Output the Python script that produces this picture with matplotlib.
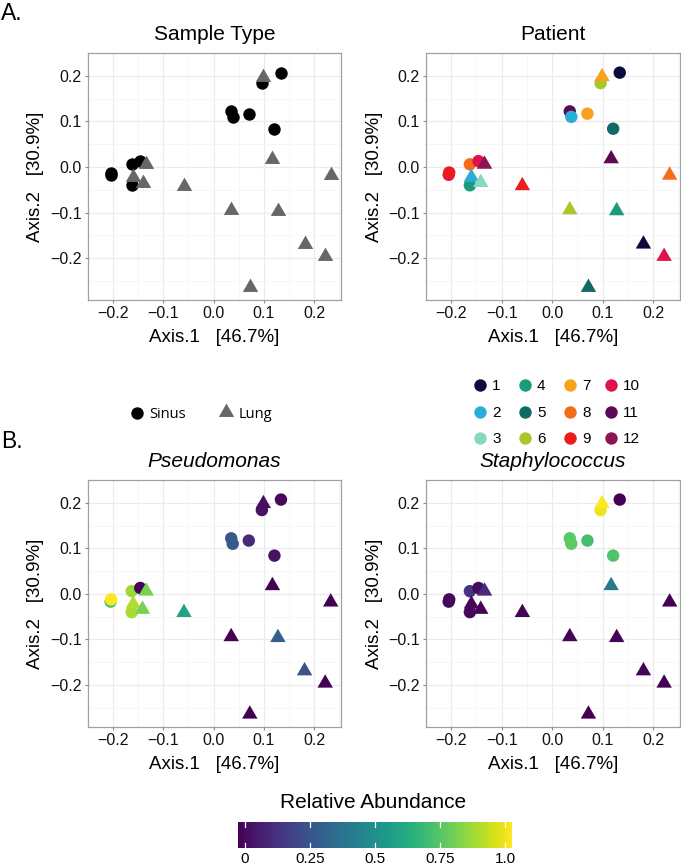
import numpy as np
import matplotlib
matplotlib.use("Agg")
import matplotlib.pyplot as plt
from matplotlib.path import Path

plt.rcParams['font.family'] = ['Liberation Sans', 'DejaVu Sans']

# ---------------- data ----------------
# Sinus samples (circles)
sinus_x = [0.134, 0.096, 0.035, 0.038, 0.070, 0.121, -0.205, -0.204, -0.163, -0.146, -0.163]
sinus_y = [0.207, 0.184, 0.122, 0.110, 0.117, 0.084, -0.017, -0.012, 0.006, 0.013, -0.040]
sinus_patient = [1, 6, 11, 2, 7, 5, 10, 9, 8, 10, 4]
sinus_pseudo = [0.02, 0.05, 0.27, 0.28, 0.12, 0.05, 0.72, 1.00, 0.85, 0.01, 0.87]
sinus_staph = [0.00, 0.97, 0.74, 0.75, 0.70, 0.72, 0.02, 0.02, 0.15, 0.03, 0.02]

# Lung samples (triangles)
lung_x = [0.099, 0.117, 0.233, -0.134, -0.160, -0.1415, -0.059, 0.035, 0.128, 0.181, 0.222, 0.072]
lung_y = [0.198, 0.018, -0.018, 0.006, -0.0225, -0.034, -0.041, -0.094, -0.096, -0.169, -0.196, -0.264]
lung_patient = [7, 11, 8, 12, 2, 3, 9, 6, 4, 1, 10, 5]
lung_pseudo = [0.04, 0.00, 0.00, 0.80, 0.88, 0.80, 0.58, 0.00, 0.30, 0.25, 0.00, 0.00]
lung_staph = [1.00, 0.40, 0.00, 0.12, 0.02, 0.01, 0.01, 0.01, 0.01, 0.01, 0.00, 0.00]

patients = [1, 2, 3, 4, 5, 6, 7, 8, 9, 10, 11, 12]
patient_colors = ['#0d0b3b', '#2aaed8', '#86d8c2', '#1b9a7c', '#0f6b63', '#a9c62b',
                  '#f7a21c', '#f36c17', '#ec1c1c', '#e0124c', '#5b0a52', '#8c1552']

xticks = [-0.2, -0.1, 0.0, 0.1, 0.2]
yticks = [-0.2, -0.1, 0.0, 0.1, 0.2]
tick_labels = ['\u22120.2', '\u22120.1', '0.0', '0.1', '0.2']
xlabel = "Axis.1   [46.7%]"
ylabel = "Axis.2   [30.9%]"
cbar_ticks = [0, 0.25, 0.5, 0.75, 1.0]
cbar_labels = ['0', '0.25', '0.5', '0.75', '1.0']

# ---------------- figure ----------------
W, H = 681, 866
fig = plt.figure(figsize=(W / 100, H / 100), dpi=100)

def fx(px):
    return px / W

def fy(py):
    return 1 - py / H

tri = Path([(-1, -0.577), (1, -0.577), (0, 1.155), (-1, -0.577)],
           [Path.MOVETO, Path.LINETO, Path.LINETO, Path.CLOSEPOLY])

CIRC_S = 80
TRI_S = 165

def make_ax(left, top, right, bottom):
    ax = fig.add_axes([fx(left), fy(bottom), fx(right - left), (bottom - top) / H])
    ax.set_xlim(-0.2245, 0.2535)
    ax.set_ylim(-0.2915, 0.2295)
    ax.set_xticks(xticks)
    ax.set_yticks(yticks)
    ax.set_xticklabels(tick_labels)
    ax.set_yticklabels(tick_labels)
    ax.set_xticks(np.arange(-0.25, 0.26, 0.1), minor=True)
    ax.set_yticks(np.arange(-0.25, 0.26, 0.1), minor=True)
    ax.grid(which='major', color='#ebebeb', linewidth=0.9, zorder=0)
    ax.grid(which='minor', color='#f5f5f5', linewidth=0.6, zorder=0)
    ax.set_axisbelow(True)
    for s in ax.spines.values():
        s.set_color('#a0a0a0')
        s.set_linewidth(0.9)
    ax.tick_params(which='major', length=2.5, width=0.8, color='#8a8a8a',
                   labelsize=11.5, labelcolor='#111111', pad=2)
    ax.tick_params(which='minor', length=0)
    return ax

panels = {
    'A1': (88, 53, 341, 300),
    'A2': (426, 53, 680, 300),
    'B1': (88, 480, 341, 726.7),
    'B2': (426, 480, 680, 726.7),
}

def labels(left, right, top, bottom, title, italic=False):
    cx = (left + right) / 2
    fig.text(fx(cx), fy(top - 18.5), title, ha='center', va='center', fontsize=15,
             style='italic' if italic else 'normal')
    fig.text(fx(cx), fy(bottom + 38), xlabel, ha='center', va='center', fontsize=13.5)
    fig.text(fx(left - 52), fy((top + bottom) / 2), ylabel, ha='center', va='center',
             fontsize=13.5, rotation=90)

# Panel A left: sample type
l, t, r, b = panels['A1']
ax = make_ax(l, t, r, b)
ax.scatter(sinus_x, sinus_y, s=CIRC_S, marker='o', color='black', linewidths=0, zorder=3)
ax.scatter(lung_x, lung_y, s=TRI_S, marker=tri, color='#676767', linewidths=0, zorder=4)
labels(l, r, t, b, 'Sample Type')

# Panel A right: patient
l, t, r, b = panels['A2']
ax = make_ax(l, t, r, b)
ax.scatter(sinus_x, sinus_y, s=CIRC_S, marker='o',
           color=[patient_colors[p - 1] for p in sinus_patient], linewidths=0, zorder=3)
ax.scatter(lung_x, lung_y, s=TRI_S, marker=tri,
           color=[patient_colors[p - 1] for p in lung_patient], linewidths=0, zorder=4)
labels(l, r, t, b, 'Patient')

# Panel B: abundances
cmap = plt.get_cmap('viridis')
for key, title, sv, lv in [('B1', 'Pseudomonas', sinus_pseudo, lung_pseudo),
                           ('B2', 'Staphylococcus', sinus_staph, lung_staph)]:
    l, t, r, b = panels[key]
    ax = make_ax(l, t, r, b)
    ax.scatter(sinus_x, sinus_y, s=CIRC_S, marker='o', c=sv, cmap=cmap, vmin=0, vmax=1,
               linewidths=0, zorder=3)
    ax.scatter(lung_x, lung_y, s=TRI_S, marker=tri, c=lv, cmap=cmap, vmin=0, vmax=1,
               linewidths=0, zorder=4)
    labels(l, r, t, b, title, italic=True)

# Panel letters
fig.text(fx(1), fy(13), 'A.', ha='left', va='center', fontsize=16.5)
fig.text(fx(1), fy(441), 'B.', ha='left', va='center', fontsize=16.5)

# Legend: Sinus / Lung
lax = fig.add_axes([0, 0, 1, 1], facecolor='none')
lax.set_xlim(0, W)
lax.set_ylim(H, 0)
lax.axis('off')
lax.scatter([137], [413], s=CIRC_S, marker='o', color='black', linewidths=0)
lax.text(149, 414, 'Sinus', ha='left', va='center', fontsize=10.5, family='Open Sans')
lax.scatter([226], [412], s=TRI_S, marker=tri, color='#676767', linewidths=0)
lax.text(239, 414, 'Lung', ha='left', va='center', fontsize=10.5, family='Open Sans')

# Legend: patients (3 rows x 4 cols, column-major)
col_x = [480, 525, 570, 611]
row_y = [385, 412, 438]
for i, p in enumerate(patients):
    cidx, ridx = i // 3, i % 3
    lax.scatter([col_x[cidx]], [row_y[ridx]], s=CIRC_S, marker='o',
                color=patient_colors[i], linewidths=0)
    lax.text(col_x[cidx] + 12, row_y[ridx] + 1, str(p), ha='left', va='center', fontsize=11)

# Colorbar
fig.text(fx(373), fy(802), 'Relative Abundance', ha='center', va='center', fontsize=15)
cax = fig.add_axes([fx(238), fy(848), fx(512 - 238), 26 / H])
grad = np.linspace(0, 1, 256).reshape(1, -1)
cax.imshow(grad, aspect='auto', cmap=cmap, extent=[-0.027, 1.027, 0, 1])
cax.set_xlim(-0.027, 1.027)
cax.set_ylim(0, 1)
for tk in cbar_ticks:
    cax.plot([tk, tk], [0, 0.2], color='white', lw=0.9)
    cax.plot([tk, tk], [0.8, 1], color='white', lw=0.9)
cax.set_yticks([])
cax.set_xticks(cbar_ticks)
cax.set_xticklabels(cbar_labels)
cax.tick_params(axis='x', length=0, labelsize=11, pad=3)
for s in cax.spines.values():
    s.set_visible(False)

fig.savefig('out.png', dpi=100)
